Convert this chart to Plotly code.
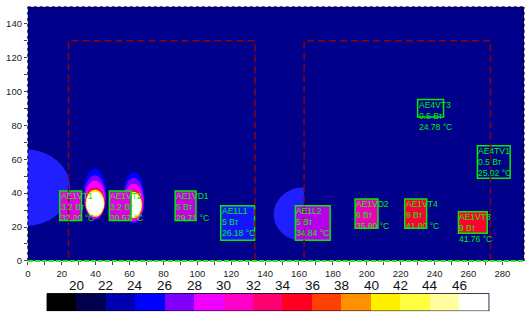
import plotly.graph_objects as go

# ---------------- data ----------------
# component boxes (data units)
comp_names = ["AE1VT1", "AE1VT2", "AE1VD1", "AE1L1", "AE1L2", "AE1VD2", "AE1VT4", "AE1VT3", "AE4VT3", "AE4TV1"]
comp_power = ["3.2 Вт", "3.2 Вт", "5 Вт", "5 Вт", "5 Вт", "6 Вт", "9 Вт", "9 Вт", "0.5 Вт", "0.5 Вт"]
comp_temp = ["32.20 °C", "30.57 °C", "29.71 °C", "26.18 °C", "34.84 °C", "35.80 °C", "41.80 °C", "41.76 °C", "24.78 °C", "25.02 °C"]
comp_x0 = [18.8, 48.1, 86.9, 113.8, 157.9, 193.1, 222.4, 254.1, 230.0, 265.3]
comp_x1 = [31.7, 61.0, 99.2, 133.8, 178.4, 206.6, 235.3, 271.1, 245.3, 284.6]
comp_y0 = [23.8, 23.8, 23.8, 12.2, 12.2, 19.2, 19.2, 16.3, 84.9, 48.8]
comp_y1 = [41.3, 41.3, 41.3, 32.6, 32.6, 36.6, 36.6, 29.0, 95.3, 68.0]
comp_fill = ["#E000E0", "#E000E0", "#C800E0", "#1414FF", "#B800E8", "#EE00BB", "#F80038", "#FF0030", "rgba(0,0,0,0)", "rgba(0,0,0,0)"]

# board outlines (dashed)
board_x0 = [24, 163]
board_x1 = [134, 273]
board_y0 = [0, 0]
board_y1 = [130, 130]

# warm zones (ellipses)
zone_color = ["#2020FF", "#2020FF"]
zone_x0 = [-29, 145]
zone_x1 = [25, 181]
zone_y0 = [20.5, 11.5]
zone_y1 = [66, 43.5]

# hot spots: concentric layers
spot_color = ["#0000FF", "#8000FF", "#F000FF", "#FF0060", "#FFF000", "#FFFFFF",
              "#0000FF", "#8000FF", "#F000FF", "#FF0060", "#FFF000", "#FFFFFF"]
spot_x0 = [32.8, 33.2, 33.6, 33.8, 34.1, 34.5,
           56.2, 56.5, 56.8, 56.9, 57.1, 57.3]
spot_x1 = [46.2, 45.9, 45.7, 45.5, 45.2, 44.8,
           68.8, 68.5, 68.2, 67.8, 67.4, 66.9]
spot_y0 = [24.0, 24.5, 25.0, 25.5, 26.0, 26.8,
           22.0, 22.5, 23.5, 24.5, 25.2, 26.0]
spot_y1 = [54.5, 50.5, 47.5, 43.5, 42.0, 40.8,
           52.5, 49.0, 45.5, 42.0, 40.8, 39.8]

# colour bar
cb_colors = ["#000000", "#000050", "#0000B0", "#0000FF", "#8000FF", "#F000FF", "#FF00C8",
             "#FF0070", "#FF0020", "#FF4000", "#FF9000", "#FFF000", "#FFFF40", "#FFFFA0", "#FFFFFF"]
cb_labels = ["20", "22", "24", "26", "28", "30", "32", "34", "36", "38", "40", "42", "44", "46"]

x_ticks = list(range(0, 290, 10))
y_ticks = list(range(0, 150, 10))

W, H = 532, 322
BG = "#00008B"

fig = go.Figure()

n = len(cb_colors)
cs = []
for i, c in enumerate(cb_colors):
    cs.append([i / n, c])
    cs.append([(i + 1) / n, c])
fig.add_trace(go.Heatmap(z=[list(range(n))], x=list(range(n)), y=[0], colorscale=cs,
                         zmin=-0.5, zmax=n - 0.5, showscale=False, hoverinfo="skip",
                         xaxis="x2", yaxis="y2"))
fig.add_trace(go.Scatter(x=[0], y=[0], mode="markers", marker=dict(opacity=0), showlegend=False,
                         hoverinfo="skip"))

shapes = []
for c, a, b, d, e in zip(zone_color, zone_x0, zone_x1, zone_y0, zone_y1):
    shapes.append(dict(type="circle", xref="x", yref="y", x0=a, x1=b, y0=d, y1=e,
                       fillcolor=c, line=dict(width=0), layer="above"))
shapes.append(dict(type="rect", xref="x", yref="y", x0=board_x0[1], x1=zone_x1[1] + 1,
                   y0=zone_y0[1] - 1, y1=zone_y1[1] + 1, fillcolor=BG, line=dict(width=0), layer="above"))
for c, a, b, d, e in zip(spot_color, spot_x0, spot_x1, spot_y0, spot_y1):
    shapes.append(dict(type="circle", xref="x", yref="y", x0=a, x1=b, y0=d, y1=e,
                       fillcolor=c, line=dict(width=0), layer="above"))
for a, b, d, e, f in zip(comp_x0, comp_x1, comp_y0, comp_y1, comp_fill):
    shapes.append(dict(type="rect", xref="x", yref="y", x0=a, x1=b, y0=d, y1=e,
                       fillcolor=f, line=dict(color="#00EE00", width=1.5), layer="above"))
for a, b, d, e in zip(board_x0, board_x1, board_y0, board_y1):
    shapes.append(dict(type="rect", xref="x", yref="y", x0=a, x1=b, y0=d, y1=e,
                       line=dict(color="#8B0010", width=1.5, dash="7px,4px"), layer="above"))
shapes.append(dict(type="line", xref="x domain", yref="y domain", x0=0, x1=1, y0=1, y1=1,
                   line=dict(color="black", width=1, dash="dot"), layer="above"))
shapes.append(dict(type="line", xref="x domain", yref="y domain", x0=1, x1=1, y0=0, y1=1,
                   line=dict(color="black", width=1, dash="dot"), layer="above"))
shapes.append(dict(type="line", xref="x domain", yref="y domain", x0=0, x1=0, y0=0, y1=1,
                   line=dict(color="black", width=1, dash="dot"), layer="above"))
shapes.append(dict(type="line", xref="x domain", yref="y domain", x0=0, x1=1, y0=0, y1=0,
                   line=dict(color="#22EE22", width=2, dash="5px,2px"), layer="above"))
shapes.append(dict(type="rect", xref="x2", yref="y2", x0=-0.5, x1=n - 0.5, y0=-0.5, y1=0.5,
                   line=dict(color="black", width=1), layer="above"))

annotations = []
for nm, pw, tp, a, e in zip(comp_names, comp_power, comp_temp, comp_x0, comp_y1):
    annotations.append(dict(x=a, y=e, xref="x", yref="y", xanchor="left", yanchor="top",
                            text=f"{nm}<br>{pw}<br>{tp}", showarrow=False, align="left",
                            font=dict(family="Liberation Sans", size=8.5, color="#00EE00"),
                            yshift=1, xshift=0, borderpad=0))
# colour bar labels (above the bar, at the bin boundaries)
for i, lab in enumerate(cb_labels):
    annotations.append(dict(x=i + 0.5, y=0.5, xref="x2", yref="y2", xanchor="center", yanchor="bottom",
                            text=lab, showarrow=False, borderpad=0, yshift=-1,
                            font=dict(family="Liberation Sans", size=13.5, color="#111")))

fig.update_layout(
    width=W, height=H,
    margin=dict(l=0, r=0, t=0, b=0),
    paper_bgcolor="white",
    plot_bgcolor=BG,
    showlegend=False,
    shapes=shapes,
    annotations=annotations,
    xaxis=dict(domain=[25 / W, 524 / W], range=[0, 292.8], tickvals=x_ticks,
               ticktext=[str(v) if v % 20 == 0 else "" for v in x_ticks],
               ticks="outside", ticklen=3, tickcolor="#444", showgrid=False, zeroline=False,
               ticklabelstandoff=1,
               tickfont=dict(family="Liberation Sans", size=9.5, color="#222"), anchor="y"),
    yaxis=dict(domain=[1 - 265 / H, 1 - 7 / H], range=[0, 150], tickvals=y_ticks,
               ticktext=[str(v) if v % 20 == 0 else "" for v in y_ticks],
               ticks="outside", ticklen=3, tickcolor="#444", showgrid=False, zeroline=False,
               tickfont=dict(family="Liberation Sans", size=9.5, color="#222"), anchor="x"),
    xaxis2=dict(domain=[44 / W, 489 / W], range=[-0.5, n - 0.5], anchor="y2",
                showticklabels=False, ticks="", showgrid=False, zeroline=False, showline=False),
    yaxis2=dict(domain=[1 - 316 / H, 1 - 298 / H], range=[-0.5, 0.5], anchor="x2",
                visible=False),
)

fig.write_html("out.html")
